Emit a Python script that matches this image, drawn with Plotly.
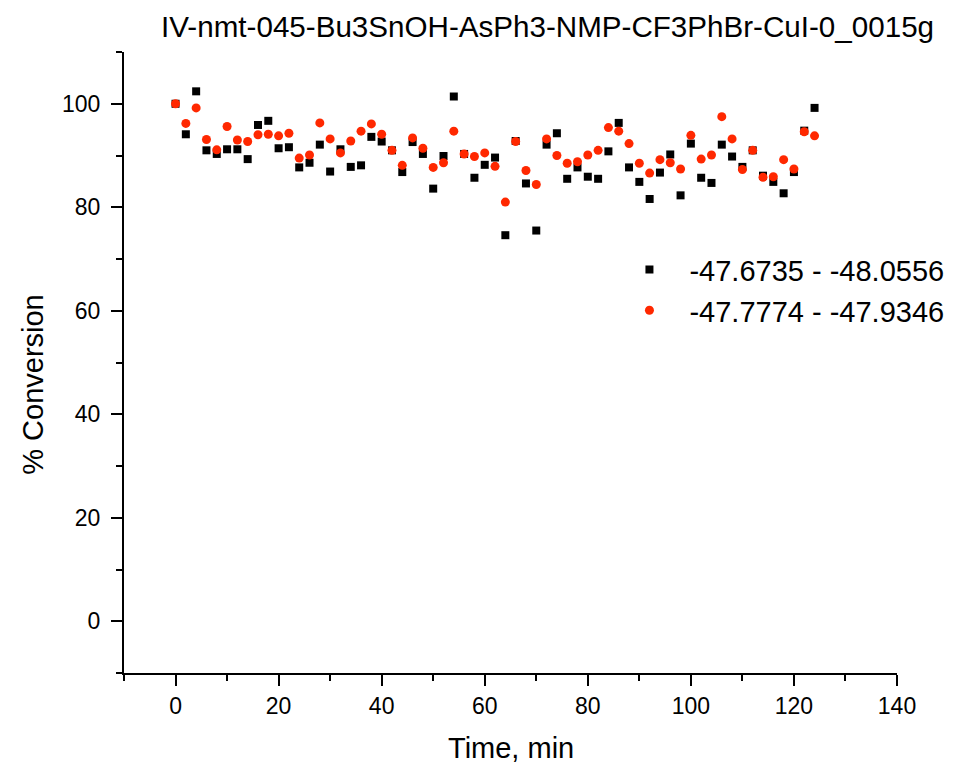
import plotly.graph_objects as go

time_min = [0, 2, 4, 6, 8, 10, 12, 14, 16, 18, 20, 22, 24, 26, 28, 30, 32, 34, 36, 38,
            40, 42, 44, 46, 48, 50, 52, 54, 56, 58, 60, 62, 64, 66, 68, 70, 72, 74, 76, 78,
            80, 82, 84, 86, 88, 90, 92, 94, 96, 98, 100, 102, 104, 106, 108, 110, 112, 114,
            116, 118, 120, 122, 124]

conv_black = [100.0, 94.1, 102.4, 91.0, 90.3, 91.2, 91.2, 89.3, 95.9, 96.7, 91.4, 91.6, 87.7,
              88.6, 92.1, 86.9, 91.2, 87.8, 88.1, 93.6, 92.7, 91.0, 86.8, 92.6, 90.3, 83.6,
              89.9, 101.4, 90.3, 85.7, 88.2, 89.6, 74.6, 92.8, 84.6, 75.5, 92.1, 94.3, 85.5,
              87.7, 85.9, 85.5, 90.8, 96.3, 87.7, 84.9, 81.6, 86.7, 90.2, 82.3, 92.3, 85.7,
              84.7, 92.1, 89.8, 87.8, 91.0, 86.1, 84.9, 82.7, 86.8, 94.8, 99.2]

conv_red = [100.0, 96.2, 99.2, 93.1, 91.1, 95.6, 93.0, 92.7, 94.0, 94.1, 93.8, 94.3, 89.5,
            90.1, 96.3, 93.2, 90.5, 92.8, 94.7, 96.1, 94.1, 91.0, 88.1, 93.4, 91.4, 87.7,
            88.6, 94.7, 90.3, 89.8, 90.5, 87.9, 81.0, 92.7, 87.1, 84.4, 93.2, 90.0, 88.5,
            88.8, 90.1, 91.0, 95.4, 94.7, 92.3, 88.5, 86.6, 89.2, 88.6, 87.4, 93.9, 89.3,
            90.1, 97.5, 93.2, 87.3, 91.0, 85.8, 85.9, 89.2, 87.4, 94.6, 93.8]

name_black = "-47.6735 - -48.0556"
name_red = "-47.7774 - -47.9346"
title_text = "IV-nmt-045-Bu3SnOH-AsPh3-NMP-CF3PhBr-CuI-0_0015g"
x_ticks = [0, 20, 40, 60, 80, 100, 120, 140]
y_ticks = [0, 20, 40, 60, 80, 100]

FONT = "Liberation Sans, Arial, sans-serif"

fig = go.Figure()
fig.add_trace(go.Scatter(x=time_min, y=conv_black, mode="markers", name=name_black,
                         legendgroup="a",
                         marker=dict(symbol="square", size=8, color="black",
                                     line=dict(width=0))))
fig.add_trace(go.Scatter(x=time_min, y=conv_red, mode="markers", name=name_red,
                         legendgroup="b",
                         marker=dict(symbol="circle", size=9, color="#ff2800",
                                     line=dict(width=0))))

axis_common = dict(showgrid=False, zeroline=False, showline=True, linecolor="black",
                   linewidth=2, ticks="outside", ticklen=11, tickwidth=2, tickcolor="black",
                   tickfont=dict(family=FONT, size=23, color="black"), automargin=False,
                   minor=dict(ticks="outside", ticklen=6, tickwidth=2, tickcolor="black",
                              dtick=10, tick0=0))

# the page body adds an 8px offset, so figure coordinates are shifted by 8px
fig.update_layout(
    width=955, height=764,
    paper_bgcolor="white", plot_bgcolor="white",
    margin=dict(l=116, r=66, t=44, b=99, autoexpand=False),
    font=dict(family=FONT, color="black"),
    xaxis=dict(range=[-10, 140], tickvals=x_ticks, ticklabelstandoff=0, **axis_common),
    yaxis=dict(range=[-10, 110], tickvals=y_ticks, ticklabelstandoff=6, **axis_common),
    showlegend=True,
    legend=dict(x=0.628, y=0.6905, xanchor="left", yanchor="top",
                font=dict(family=FONT, size=29, color="black"),
                bgcolor="rgba(0,0,0,0)", borderwidth=0, itemwidth=70,
                traceorder="grouped", tracegroupgap=0),
    title=dict(text=title_text, x=0.565, xref="container", xanchor="center",
               y=1 - 19 / 764, yref="container", yanchor="middle",
               font=dict(family=FONT, size=29.6, color="black")),
)

fig.add_annotation(text="Time, min", xref="paper", yref="paper", x=0.5, y=-0.121,
                   xanchor="center", yanchor="middle", showarrow=False,
                   font=dict(family=FONT, size=29, color="black"))
fig.add_annotation(text="% Conversion", xref="paper", yref="paper", x=-0.118,
                   y=(673 - 384) / 621, xanchor="center", yanchor="middle",
                   showarrow=False, textangle=-90,
                   font=dict(family=FONT, size=29, color="black"))

fig.write_html("out.html")
